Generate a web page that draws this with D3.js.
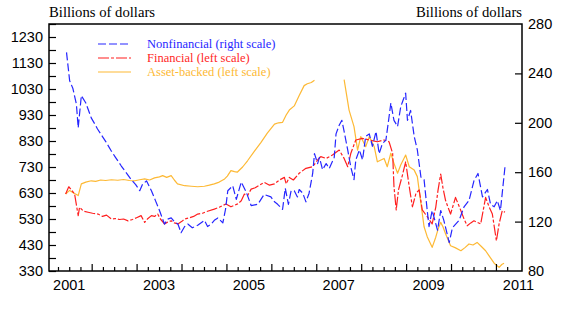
<!DOCTYPE html>
<html>
<head>
<meta charset="utf-8">
<script src="https://cdn.jsdelivr.net/npm/d3@7/dist/d3.min.js"></script>
<style>
  body { margin:0; background:#fff; }
  .unit { font-family:"Liberation Serif","DejaVu Serif","Times New Roman",serif; font-size:14.7px; fill:#000; }
  .tick-label { font-family:"Liberation Sans",Arial,sans-serif; font-size:14.5px; fill:#000; }
  .legend text { font-family:"Liberation Serif","DejaVu Serif","Times New Roman",serif; font-size:12.5px; }
</style>
</head>
<body>
<div id="chart"></div>
<script>
// commercial paper outstanding, readings by decimal year
var abYears = [2001.42,2001.51,2001.60,2001.70,2001.77,2001.87,2001.99,2002.09,2002.20,2002.31,2002.44,2002.58,2002.71,2002.84,2002.96,
  2003.07,2003.18,2003.29,2003.40,2003.51,2003.58,2003.67,2003.77,2003.84,2003.91,2004.07,2004.22,2004.36,2004.51,2004.62,2004.73,2004.84,2004.96,
  2005.02,2005.10,2005.18,2005.24,2005.36,2005.47,2005.62,2005.77,2005.91,2006.07,2006.16,2006.25,2006.33,2006.40,2006.51,2006.62,2006.73,2006.80,2006.89,2006.96,
  2007.30,
  2007.62,2007.73,2007.84,2007.92,2007.99,2008.10,2008.18,2008.29,2008.36,2008.51,2008.58,2008.66,2008.73,2008.81,2008.88,2008.99,
  2009.07,2009.18,2009.25,2009.33,2009.40,2009.47,2009.58,2009.66,2009.71,2009.77,2009.82,2009.88,2009.99,
  2010.09,2010.22,2010.31,2010.40,2010.49,2010.58,2010.67,2010.77,2010.84,2010.96,2011.07,2011.13,2011.18];
var abValues = [626,640,630,620,665,672,677,675,680,678,681,679,682,678,677,
  681,684,680,688,692,697,690,697,680,665,658,656,654,656,660,665,672,684,
  695,716,712,710,730,754,790,825,860,895,900,902,930,949,965,1005,1043,1050,1055,1064,
  null,
  1066,949,885,795,847,808,847,808,750,763,731,783,744,706,738,776,
  731,718,693,590,500,462,421,460,490,517,500,472,427,
  420,408,420,434,430,440,425,408,390,360,344,355,360];

var finYears = [2001.42,2001.49,2001.56,2001.62,2001.70,2001.73,2001.82,2001.92,2002.02,2002.14,2002.24,2002.33,2002.44,2002.53,2002.62,2002.71,2002.81,2002.91,
  2003.00,2003.10,2003.18,2003.24,2003.33,2003.40,2003.47,2003.53,2003.62,2003.69,2003.77,2003.84,2003.92,
  2004.00,2004.07,2004.18,2004.27,2004.36,2004.47,2004.58,2004.73,2004.84,2004.99,
  2005.10,2005.25,2005.33,2005.40,2005.47,2005.55,2005.64,2005.73,2005.84,2005.96,
  2006.07,2006.18,2006.29,2006.33,2006.40,2006.49,2006.62,2006.77,2006.92,
  2007.03,2007.10,2007.22,2007.36,2007.51,2007.62,2007.70,2007.77,2007.88,
  2008.03,2008.18,2008.36,2008.51,2008.62,2008.70,2008.73,2008.78,2008.83,2008.92,2008.99,
  2009.07,2009.14,2009.22,2009.29,2009.36,2009.47,2009.58,2009.66,2009.71,2009.77,2009.82,2009.88,2009.99,
  2010.10,2010.22,2010.29,2010.36,2010.44,2010.51,2010.66,2010.77,2010.84,2010.92,2011.01,2011.07,2011.14,2011.20];
var finValues = [626,654,640,626,543,575,560,556,552,549,540,545,530,532,528,530,523,528,
  535,543,517,530,543,540,549,530,511,518,523,515,511,
  520,530,535,540,549,552,560,568,575,588,
  577,588,600,626,620,645,650,660,671,660,
  665,680,690,665,690,680,706,725,731,
  757,770,763,776,795,763,731,783,834,
  840,834,827,834,827,783,654,565,642,700,750,
  654,577,629,642,565,539,511,575,640,703,650,600,549,
  613,562,530,504,515,523,511,613,580,549,446,511,562,556];

var nonfinYears = [2001.44,2001.51,2001.58,2001.66,2001.70,2001.77,2001.87,2001.99,2002.07,2002.13,2002.22,2002.31,2002.44,2002.53,2002.66,2002.76,2002.88,2002.98,
  2003.07,2003.13,2003.22,2003.33,2003.42,2003.51,2003.62,2003.69,2003.77,2003.84,2003.92,2003.99,
  2004.07,2004.14,2004.24,2004.36,2004.51,2004.58,2004.66,2004.73,2004.81,2004.92,2004.98,
  2005.03,2005.14,2005.22,2005.33,2005.44,2005.55,2005.70,2005.84,2005.99,
  2006.07,2006.14,2006.25,2006.31,2006.38,2006.44,2006.51,2006.58,
  2006.62,2006.70,2006.77,2006.84,2006.92,2006.96,2007.03,2007.07,2007.14,2007.22,2007.29,2007.40,2007.44,2007.51,2007.57,
  2007.62,2007.70,2007.77,2007.84,2007.88,2007.96,2008.03,2008.10,2008.18,2008.25,2008.33,2008.40,2008.47,2008.55,2008.61,
  2008.66,2008.73,2008.81,2008.88,2008.93,2008.99,2009.03,2009.10,2009.18,2009.25,2009.33,2009.40,2009.47,2009.51,
  2009.58,2009.70,2009.77,2009.84,2009.96,
  2010.03,2010.18,2010.29,2010.40,2010.51,2010.60,2010.70,2010.81,2010.88,2010.96,2011.03,2011.10,2011.20];
var nonfinValues = [257,234,228,215,196,222,216,204,199,195,190,185,177,172,165,160,154,150,
  145,150,153,145,137,129,118,122,123,120,118,111,
  116,118,115,117,121,116,118,121,123,119,130,
  145,149,138,152,144,133,134,142,140,
  136,134,130,147,134,145,145,140,
  146,143,136,143,159,175,167,172,162,167,163,172,191,198,202,
  193,178,164,154,170,178,170,189,191,181,193,175,183,186,202,
  216,202,197,213,218,224,202,210,189,178,156,154,129,116,
  129,113,129,121,103,
  115,121,132,137,153,159,140,146,134,132,137,129,164];

var leftTicks = d3.range(330, 1231, 100);
var leftMinor = d3.range(380, 1281, 100);
var rightTicks = [80, 120, 160, 200, 240, 280];
var yearLabels = [2001, 2003, 2005, 2007, 2009, 2011];

var legendItems = [
  {label:"Nonfinancial (right scale)", color:"#2626ff", dash:"8,3"},
  {label:"Financial (left scale)", color:"#ff1f1f", dash:"11,2,3,2"},
  {label:"Asset-backed (left scale)", color:"#fdb935", dash:null}
];

var W = 571, H = 322;
var box = {left:49, right:522, top:24, bottom:271};

var svg = d3.select("#chart").append("svg").attr("width", W).attr("height", H);

var x = d3.scaleLinear().domain([2001.05, 2011.58]).range([box.left, box.right]);
var yL = d3.scaleLinear().domain([330, 1280]).range([box.bottom, box.top]);
var yR = d3.scaleLinear().domain([80, 280]).range([box.bottom, box.top]);

function pairs(xs, vs){
  return xs.map(function(d, i){ return {t:d, v:vs[i]}; });
}

function drawSeries(data, yScale, item){
  var line = d3.line()
    .defined(function(d){ return d.v != null; })
    .x(function(d){ return x(d.t); })
    .y(function(d){ return yScale(d.v); });
  var p = svg.append("path").datum(data)
    .attr("d", line)
    .attr("fill", "none")
    .attr("stroke", item.color)
    .attr("stroke-width", 1.2)
    .attr("stroke-linejoin", "round");
  if (item.dash) p.attr("stroke-dasharray", item.dash);
}

drawSeries(pairs(abYears, abValues), yL, legendItems[2]);
drawSeries(pairs(finYears, finValues), yL, legendItems[1]);
drawSeries(pairs(nonfinYears, nonfinValues), yR, legendItems[0]);

// axes (ticks point inward)
var left = svg.append("g").attr("transform", "translate(" + box.left + ",0)")
  .call(d3.axisRight(yL).tickValues(leftTicks.concat(leftMinor)).tickSize(7).tickFormat(""));
var right = svg.append("g").attr("transform", "translate(" + box.right + ",0)")
  .call(d3.axisLeft(yR).tickValues(rightTicks.slice(1, -1)).tickSize(7).tickFormat(""));

var quarters = d3.range(2001, 2011.5, 0.25).filter(function(d){ return d > 2001.05; });
var bottom = svg.append("g").attr("transform", "translate(0," + box.bottom + ")")
  .call(d3.axisTop(x).tickValues(quarters).tickSizeOuter(0).tickFormat(""));
bottom.selectAll(".tick line").attr("y2", function(d){ return d % 1 === 0 ? -7 : -4; });

[left, right, bottom].forEach(function(g){
  g.select(".domain").remove();
  g.selectAll(".tick line").attr("stroke", "#000").attr("stroke-width", 1.2);
});

svg.append("rect")
  .attr("x", box.left).attr("y", box.top)
  .attr("width", box.right - box.left).attr("height", box.bottom - box.top)
  .attr("fill", "none").attr("stroke", "#000").attr("stroke-width", 1.5);

svg.selectAll(".yl").data(leftTicks).enter().append("text")
  .attr("class", "tick-label").attr("text-anchor", "end")
  .attr("x", box.left - 6).attr("y", function(d){ return yL(d) + 5; })
  .text(function(d){ return d; });

svg.selectAll(".yr").data(rightTicks).enter().append("text")
  .attr("class", "tick-label")
  .attr("x", box.right + 6).attr("y", function(d){ return yR(d) + 5; })
  .text(function(d){ return d; });

svg.selectAll(".yr-lab").data(yearLabels).enter().append("text")
  .attr("class", "tick-label").attr("text-anchor", "middle")
  .attr("x", function(d){ return x(d + 0.5); }).attr("y", 290)
  .text(function(d){ return d; });

svg.append("text").attr("class", "unit").attr("x", box.left).attr("y", 17).text("Billions of dollars");
svg.append("text").attr("class", "unit").attr("text-anchor", "end")
  .attr("x", box.right).attr("y", 17).text("Billions of dollars");

var legend = svg.append("g").attr("class", "legend");
legendItems.forEach(function(item, i){
  var yy = 44 + i * 14;
  var l = legend.append("line")
    .attr("x1", 98).attr("x2", 131).attr("y1", yy).attr("y2", yy)
    .attr("stroke", item.color).attr("stroke-width", 1.2);
  if (item.dash) l.attr("stroke-dasharray", item.dash);
  legend.append("text").attr("x", 147).attr("y", yy + 4)
    .attr("fill", item.color).text(item.label);
});
</script>
</body>
</html>
